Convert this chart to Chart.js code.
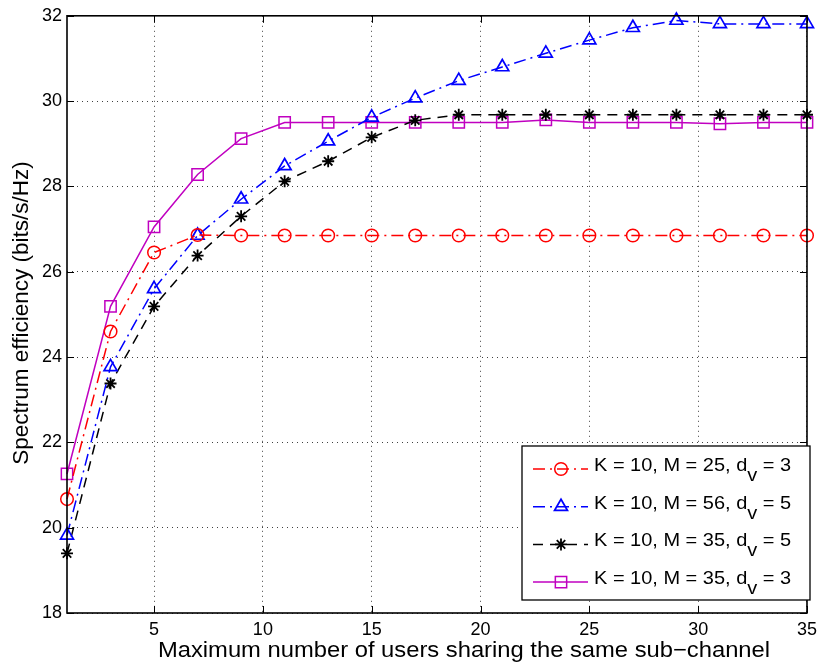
<!DOCTYPE html>
<html>
<head>
<meta charset="utf-8">
<script src="https://cdn.jsdelivr.net/npm/chart.js@4.4.1/dist/chart.umd.min.js"></script>
<style>
html,body{margin:0;padding:0;background:#fff}
#wrap{width:823px;height:664px}
</style>
</head>
<body>
<div id="wrap"><canvas id="chart"></canvas></div>
<script>
// users sharing a sub-channel (x) and spectrum efficiency per curve
const xValues=[1,3,5,7,9,11,13,15,17,19,21,23,25,27,29,31,33,35];
const xTicks=[5,10,15,20,25,30,35];
const yTicks=[18,20,22,24,26,28,30,32];

const names=['K = 10, M = 25, d_v = 3','K = 10, M = 56, d_v = 5','K = 10, M = 35, d_v = 5','K = 10, M = 35, d_v = 3'];

const m25d3=[20.67,24.6,26.45,26.86,26.85,26.85,26.85,26.85,26.85,26.85,26.85,26.85,26.85,26.85,26.85,26.85,26.85,26.85];
const m56d5=[19.82,23.77,25.6,26.85,27.7,28.48,29.06,29.62,30.07,30.48,30.8,31.12,31.43,31.72,31.89,31.81,31.81,31.81];
const m35d5=[19.4,23.38,25.19,26.38,27.3,28.12,28.59,29.15,29.55,29.68,29.68,29.68,29.68,29.68,29.68,29.68,29.68,29.68];
const m35d3=[21.26,25.19,27.05,28.28,29.12,29.5,29.5,29.5,29.5,29.5,29.5,29.56,29.5,29.5,29.5,29.47,29.5,29.5];

const pts=a=>a.map((v,i)=>({x:xValues[i],y:v}));
const FONT='"Liberation Sans", Arial, sans-serif';
const SX=1.08; // reference text is a bit wider than Arial

function wideText(ctx,txt,x,y){
ctx.save();ctx.translate(x,y);ctx.scale(SX,1);ctx.fillText(txt,0,0);ctx.restore();
return ctx.measureText(txt).width*SX;
}

// box around the axes + inward tick marks (matlab style)
const frame={
id:'frame',
afterDraw(c){
const a=c.chartArea,ctx=c.ctx,xs=c.scales.x,ys=c.scales.y;
ctx.save();
ctx.strokeStyle='#000';
ctx.lineWidth=1;
xTicks.forEach(t=>{
const px=Math.round(xs.getPixelForValue(t))+0.5;
ctx.beginPath();ctx.moveTo(px,a.bottom);ctx.lineTo(px,a.bottom-7);
ctx.moveTo(px,a.top);ctx.lineTo(px,a.top+7);ctx.stroke();
});
yTicks.forEach(t=>{
const py=Math.round(ys.getPixelForValue(t))+0.5;
ctx.beginPath();ctx.moveTo(a.left,py);ctx.lineTo(a.left+7,py);
ctx.moveTo(a.right,py);ctx.lineTo(a.right-7,py);ctx.stroke();
});
ctx.lineWidth=1.6;
ctx.strokeRect(a.left,a.top,a.right-a.left,a.bottom-a.top);

// axis titles
ctx.fillStyle='#000';
ctx.font='22px '+FONT;
ctx.textAlign='center';ctx.textBaseline='middle';
wideText(ctx,'Maximum number of users sharing the same sub\u2212channel',464,651);
ctx.translate(22,313);ctx.rotate(-Math.PI/2);
ctx.font='22.5px '+FONT;
ctx.fillText('Spectrum efficiency (bits/s/Hz)',0,0);
ctx.restore();
}
};

// legend with subscript v
const legendBox={
id:'legendBox',
afterDraw(c){
const ctx=c.ctx;
const bx=522,by=446,bw=288,bh=154;
ctx.save();
ctx.fillStyle='#fff';ctx.fillRect(bx,by,bw,bh);
ctx.strokeStyle='#000';ctx.lineWidth=1.3;ctx.strokeRect(bx,by,bw,bh);
c.data.datasets.forEach((ds,i)=>{
const y=469+i*37.7;
ctx.save();
ctx.strokeStyle=ds.borderColor;ctx.lineWidth=ds.borderWidth;
ctx.setLineDash(ds.borderDash||[]);
ctx.beginPath();ctx.moveTo(533,y);ctx.lineTo(588,y);ctx.stroke();
ctx.restore();
ctx.save();
ctx.strokeStyle=ds.pointBorderColor;ctx.fillStyle='rgba(0,0,0,0)';
ctx.lineWidth=ds.pointBorderWidth;
Chart.helpers.drawPoint(ctx,{pointStyle:ds.pointStyle,radius:ds.pointRadius,borderWidth:ds.pointBorderWidth},561,y);
ctx.restore();
const parts=names[i].split('_v');
ctx.fillStyle='#000';ctx.textBaseline='alphabetic';ctx.textAlign='left';
ctx.font='18.5px '+FONT;
let x=594;
x+=wideText(ctx,parts[0],x,y+2);
x+=wideText(ctx,'v',x,y+12);
wideText(ctx,parts[1],x,y+2);
});
ctx.restore();
}
};

const ds=(data,color,dash,style,r,bw)=>({
data:pts(data),borderColor:color,borderWidth:1.5,borderDash:dash,
pointStyle:style,pointRadius:r,pointHoverRadius:r,pointBorderColor:color,
pointBackgroundColor:'rgba(0,0,0,0)',pointBorderWidth:bw,tension:0,fill:false,clip:false
});

new Chart(document.getElementById('chart'),{
type:'line',
data:{datasets:[
Object.assign(ds(m25d3,'#ff0000',[12,5,2,5],'circle',6.3,1.5),{label:names[0]}),
Object.assign(ds(m56d5,'#0000ff',[12,5,2,5],'triangle',7.5,1.7),{label:names[1]}),
Object.assign(ds(m35d5,'#000000',[10,7],'star',6,1.8),{label:names[2]}),
Object.assign(ds(m35d3,'#c000c0',[],'rect',8,1.5),{label:names[3]})
]},
options:{
responsive:true,maintainAspectRatio:false,animation:false,
layout:{padding:{top:15,right:12,left:0,bottom:0}},
plugins:{legend:{display:false},tooltip:{enabled:false}},
scales:{
x:{type:'linear',min:1,max:35,
afterBuildTicks:s=>{s.ticks=xTicks.map(v=>({value:v}));},
afterFit:s=>{s.height=51;},
grid:{color:'rgba(0,0,0,0.75)',lineWidth:1,drawTicks:false},
border:{display:false,dash:[1,4]},
ticks:{color:'#000',padding:6,font:{family:FONT,size:18},maxRotation:0}
},
y:{min:18,max:32,
afterBuildTicks:s=>{s.ticks=yTicks.map(v=>({value:v}));},
afterFit:s=>{s.width=67;},
grid:{color:'rgba(0,0,0,0.75)',lineWidth:1,drawTicks:false},
border:{display:false,dash:[1,4]},
ticks:{color:'#000',padding:5,font:{family:FONT,size:18}}
}
}
},
plugins:[frame,legendBox]
});
</script>
</body>
</html>
